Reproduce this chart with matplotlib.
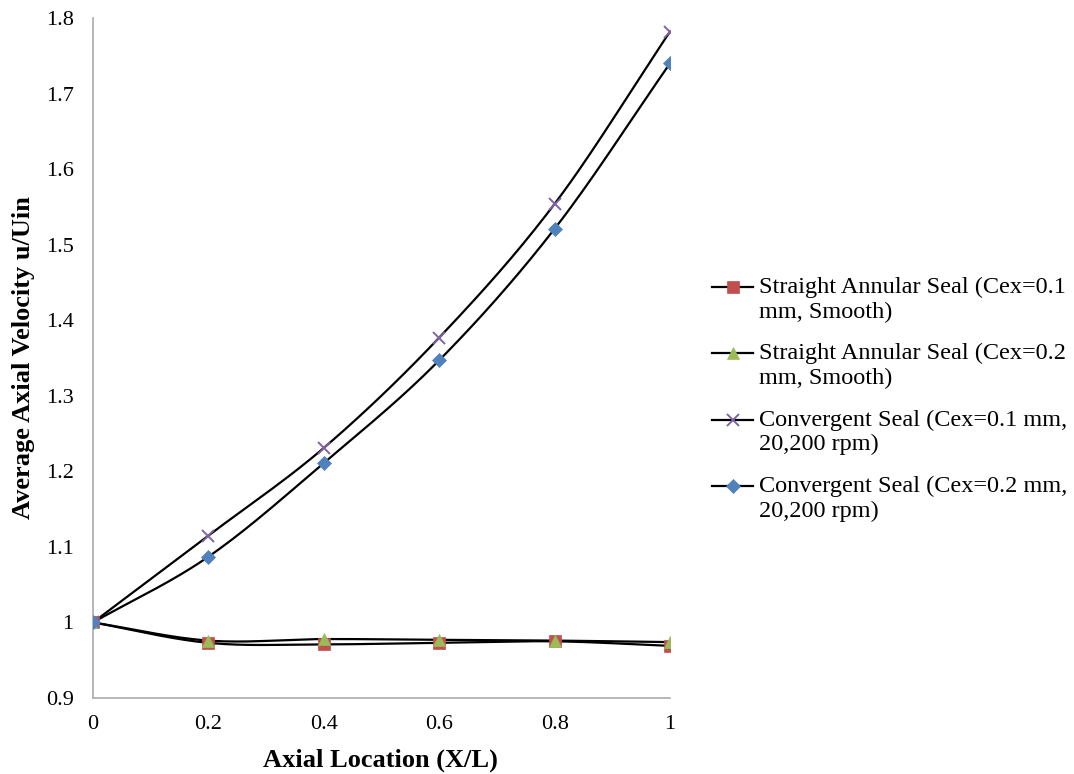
import numpy as np
import matplotlib.pyplot as plt
from matplotlib.lines import Line2D

plt.rcParams["font.family"] = ["Liberation Serif", "DejaVu Serif"]

# ── Data ──────────────────────────────────────────────────────────────────────
x_loc = [0, 0.2, 0.4, 0.6, 0.8, 1.0]
straight_01 = [1.000, 0.973, 0.971, 0.973, 0.975, 0.969]
straight_02 = [1.000, 0.976, 0.978, 0.977, 0.976, 0.974]
convergent_01 = [1.000, 1.115, 1.231, 1.377, 1.554, 1.782]
convergent_02 = [1.000, 1.087, 1.211, 1.347, 1.521, 1.740]

labels = [
    "Straight Annular Seal (Cex=0.1\nmm, Smooth)",
    "Straight Annular Seal (Cex=0.2\nmm, Smooth)",
    "Convergent Seal (Cex=0.1 mm,\n20,200 rpm)",
    "Convergent Seal (Cex=0.2 mm,\n20,200 rpm)",
]
series = [straight_01, straight_02, convergent_01, convergent_02]
markers = ["s", "^", "x", "D"]
marker_colors = ["#C0504D", "#9BBB59", "#8064A2", "#4F81BD"]
marker_sizes = [8, 9, 9, 7]


def smooth(xs, ys, n=30):
    """Catmull-Rom curve through the points, like a spreadsheet's smoothed line."""
    xs = np.asarray(xs, float)
    ys = np.asarray(ys, float)
    px = np.concatenate([[2 * xs[0] - xs[1]], xs, [2 * xs[-1] - xs[-2]]])
    py = np.concatenate([[2 * ys[0] - ys[1]], ys, [2 * ys[-1] - ys[-2]]])
    out_x, out_y = [], []
    t = np.linspace(0, 1, n)
    for i in range(1, len(px) - 2):
        for p, out in ((px, out_x), (py, out_y)):
            p0, p1, p2, p3 = p[i - 1], p[i], p[i + 1], p[i + 2]
            seg = 0.5 * ((2 * p1) + (-p0 + p2) * t
                         + (2 * p0 - 5 * p1 + 4 * p2 - p3) * t ** 2
                         + (-p0 + 3 * p1 - 3 * p2 + p3) * t ** 3)
            out.extend(seg)
    return np.array(out_x), np.array(out_y)


W, H = 1074, 774
fig = plt.figure(figsize=(W / 100, H / 100), dpi=100)
ax = fig.add_axes([93 / W, 1 - 698 / H, 577 / W, 680 / H])

for ys, m, c, ms in zip(series, markers, marker_colors, marker_sizes):
    sx, sy = smooth(x_loc, ys)
    ax.plot(sx, sy, color="black", linewidth=1.6, zorder=2)
    ax.plot(x_loc, ys, linestyle="none", marker=m, color=c, markersize=ms,
            markeredgewidth=1.4 if m == "x" else 0.5, markeredgecolor=c, zorder=3)

ax.set_xlim(0, 1)
ax.set_ylim(0.9, 1.8)
ax.set_xticks(np.arange(0, 1.01, 0.2))
ax.set_xticklabels(["0", "0.2", "0.4", "0.6", "0.8", "1"])
ax.set_yticks(np.arange(0.9, 1.81, 0.1))
ax.set_yticklabels(["0.9", "1", "1.1", "1.2", "1.3", "1.4", "1.5", "1.6", "1.7", "1.8"])
ax.tick_params(length=0, labelsize=16)
ax.tick_params(axis="x", pad=12)
ax.tick_params(axis="y", pad=14)

for side in ("top", "right"):
    ax.spines[side].set_visible(False)
for side in ("left", "bottom"):
    ax.spines[side].set_color("#ABABAB")
    ax.spines[side].set_linewidth(1.2)

ax.set_xlabel("Axial Location (X/L)", fontsize=19, fontweight="bold")
ax.set_ylabel("Average Axial Velocity u/Uin", fontsize=19, fontweight="bold")
ax.xaxis.label.set_va("center")
ax.yaxis.label.set_va("center")
ax.xaxis.set_label_coords(0.499, -0.091)
ax.yaxis.set_label_coords(-0.12, 0.5)

# legend drawn by hand so the key sits on the first line of each wrapped label
for i, (lab, m, c, ms) in enumerate(zip(labels, markers, marker_colors, marker_sizes)):
    yk = 1 - (287 + 66.3 * i) / H
    fig.add_artist(Line2D([712 / W, 753 / W], [yk, yk], color="black", linewidth=1.6))
    fig.add_artist(Line2D([732.5 / W], [yk], linestyle="none", marker=m, color=c,
                          markersize=ms, markeredgecolor=c,
                          markeredgewidth=1.4 if m == "x" else 0.5))
    fig.text(759 / W, yk + 10 / H, lab, ha="left", va="top", fontsize=17.5)

plt.savefig("out.png", dpi=100)
